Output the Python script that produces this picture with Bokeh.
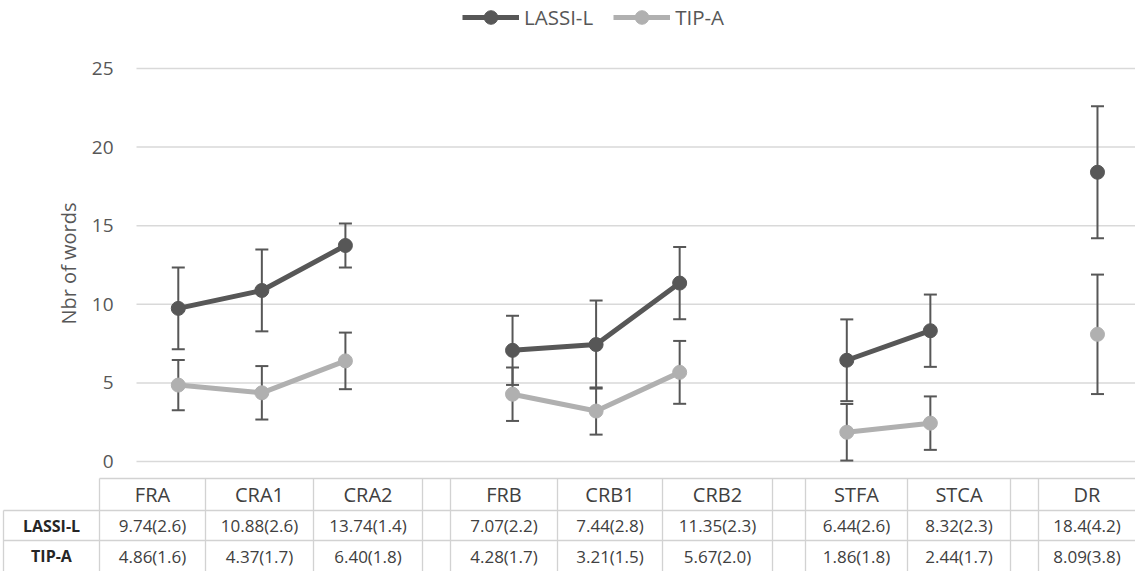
import numpy as np
from bokeh.plotting import figure
from bokeh.models import Range1d, ColumnDataSource, Whisker, TeeHead, Legend, LegendItem
from bokeh.embed import file_html
from bokeh.resources import INLINE
from bokeh.core.properties import value

# ---------------- data ----------------
categories = ["FRA", "CRA1", "CRA2", "", "FRB", "CRB1", "CRB2", "", "STFA", "STCA", "", "DR"]
lassi_mean = ["9.74", "10.88", "13.74", "", "7.07", "7.44", "11.35", "", "6.44", "8.32", "", "18.4"]
lassi_sd = ["2.6", "2.6", "1.4", "", "2.2", "2.8", "2.3", "", "2.6", "2.3", "", "4.2"]
tipa_mean = ["4.86", "4.37", "6.40", "", "4.28", "3.21", "5.67", "", "1.86", "2.44", "", "8.09"]
tipa_sd = ["1.6", "1.7", "1.8", "", "1.7", "1.5", "2.0", "", "1.8", "1.7", "", "3.8"]
series_names = ["LASSI-L", "TIP-A"]
y_ticks = [0, 5, 10, 15, 20, 25]
y_label = "Nbr of words"

# ---------------- styles / layout (pixels) ----------------
W, H = 1135, 571
plot_left, plot_right, plot_top, plot_bottom = 136, 1135, 68, 461
x_lo, x_hi = -0.5, 11.455
y_lo, y_hi = 0, 25
DARK = "#575757"
LIGHT = "#b0b0b0"
GRID = "#d9d9d9"
TLINE = "#d2d2d2"
TXT = "#404040"
FONT = "Open Sans"
table_left = 3
table_col_widths = [96, 106, 108, 109, 28, 107, 105, 110, 33, 102, 103, 28, 97]
table_row_edges = [478, 510, 540, 571]
tick_label_right = 113
ylabel_pos = (68, 263)
legend_pos = (462, 537)


def to_num(lst):
    return np.array([float(v) if v != "" else np.nan for v in lst])


# ranges: default = page pixels (for table / labels); "cat"/"val" = chart scales
sx = (plot_right - plot_left) / (x_hi - x_lo)
sy = (plot_bottom - plot_top) / (y_hi - y_lo)
cat_range = Range1d(x_lo - plot_left / sx, x_hi + (W - plot_right) / sx)
val_range = Range1d(y_lo - (H - plot_bottom) / sy, y_hi + plot_top / sy)

p = figure(width=W, height=H, x_range=Range1d(0, W), y_range=Range1d(H, 0),
           min_border=0, x_axis_location=None, y_axis_location=None,
           output_backend="svg", toolbar_location=None)
p.extra_x_ranges = {"cat": cat_range}
p.extra_y_ranges = {"val": val_range}
p.grid.visible = False
p.outline_line_color = None

x_idx = np.arange(len(categories), dtype=float)

# gridlines
p.segment(x0=[x_lo] * len(y_ticks), y0=y_ticks, x1=[x_hi] * len(y_ticks), y1=y_ticks,
          x_range_name="cat", y_range_name="val", line_color=GRID, line_width=1.5, level="image")
# y tick labels & axis title
p.text(x=[tick_label_right] * len(y_ticks), y=y_ticks, text=[str(v) for v in y_ticks],
       y_range_name="val", text_align="right", text_baseline="middle",
       text_font=value(FONT), text_font_size="19px", text_color=DARK)
p.text(x=[ylabel_pos[0]], y=[ylabel_pos[1]], text=[y_label], angle=np.pi / 2,
       text_align="center", text_baseline="middle",
       text_font=value(FONT), text_font_size="20px", text_color=DARK)

items = []
for name, mean_s, sd_s, col in [(series_names[1], tipa_mean, tipa_sd, LIGHT),
                                (series_names[0], lassi_mean, lassi_sd, DARK)]:
    m = to_num(mean_s)
    s = to_num(sd_s)
    line_r = p.line(x_idx, m, line_color=col, line_width=5, level="underlay",
                    x_range_name="cat", y_range_name="val")
    ok = ~np.isnan(m)
    src = ColumnDataSource(dict(x=x_idx[ok], y=m[ok], lo=(m - s)[ok], hi=(m + s)[ok]))
    w = Whisker(base="x", lower="lo", upper="hi", source=src, line_color=DARK, line_width=2,
                level="glyph", x_range_name="cat", y_range_name="val",
                upper_head=TeeHead(size=13, line_color=DARK, line_width=2),
                lower_head=TeeHead(size=13, line_color=DARK, line_width=2))
    p.add_layout(w)
    sc = p.scatter("x", "y", source=src, size=14, fill_color=col, line_color=col,
                   level="guide", x_range_name="cat", y_range_name="val")
    items.append(LegendItem(label=name, renderers=[line_r, sc]))

legend = Legend(items=items[::-1], orientation="horizontal", location=legend_pos,
                glyph_width=57, glyph_height=34, label_standoff=5, spacing=20,
                padding=0, margin=0, border_line_alpha=0, background_fill_alpha=0,
                label_text_font=FONT, label_text_font_size="20.5px", label_text_color=DARK,
                label_text_baseline="middle")
p.add_layout(legend, "center")

# ---------------- data table ----------------
edges = np.concatenate([[table_left], table_left + np.cumsum(table_col_widths)])
centers = (edges[:-1] + edges[1:]) / 2
r0, r1, r2, r3 = table_row_edges
vx = list(edges[1:-1]) + [edges[0]]
vy0 = [r0] * (len(edges) - 2) + [r1]
vy1 = [r3] * (len(edges) - 1)
p.segment(x0=vx, y0=vy0, x1=vx, y1=vy1, line_color=TLINE, line_width=1.3, level="image")
p.segment(x0=[edges[1], edges[0], edges[0]], y0=[r0, r1, r2], x1=[W] * 3, y1=[r0, r1, r2],
          line_color=TLINE, line_width=1.3, level="image")

row_y = [(table_row_edges[i] + table_row_edges[i + 1]) / 2 for i in range(3)]
lassi_txt = [f"{a}({b})" if a else "" for a, b in zip(lassi_mean, lassi_sd)]
tipa_txt = [f"{a}({b})" if a else "" for a, b in zip(tipa_mean, tipa_sd)]
p.text(x=centers[1:], y=[row_y[0]] * len(categories), text=categories,
       text_align="center", text_baseline="middle", text_font=value(FONT),
       text_font_size="20px", text_color=TXT)
p.text(x=centers[1:], y=[row_y[1]] * len(categories), text=lassi_txt,
       text_align="center", text_baseline="middle", text_font=value(FONT),
       text_font_size="17px", text_color=TXT)
p.text(x=centers[1:], y=[row_y[2]] * len(categories), text=tipa_txt,
       text_align="center", text_baseline="middle", text_font=value(FONT),
       text_font_size="17px", text_color=TXT)
p.text(x=[centers[0]] * 2, y=row_y[1:], text=series_names,
       text_align="center", text_baseline="middle", text_font=value(FONT),
       text_font_size="16px", text_font_style="bold", text_color="#262626")

open("out.html", "w").write(file_html(p, INLINE))
